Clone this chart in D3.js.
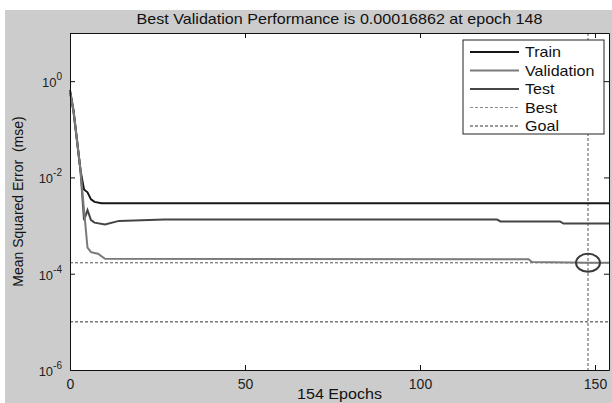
<!DOCTYPE html>
<html>
<head>
<meta charset="utf-8">
<script src="https://cdn.jsdelivr.net/npm/d3@7/dist/d3.min.js"></script>
<style>
  html, body { margin: 0; padding: 0; background: #fff; }
  svg { display: block; font-family: "Liberation Sans", Arial, sans-serif; }
</style>
</head>
<body>
<svg id="chart" width="612" height="403"></svg>
<script>
// performance curves (epoch, mse)
let trainEpochs = [0, 1, 2, 3, 4, 5, 6, 7, 9, 154];
let trainMse = [0.65, 0.25, 0.06, 0.014, 0.0056, 0.0049, 0.0035, 0.0031, 0.0029, 0.0029];

let valEpochs = [0, 1, 2, 3, 4, 5, 6, 7, 8, 10, 131, 132, 148, 154];
let valMse = [0.62, 0.24, 0.058, 0.014, 0.0021, 0.00035, 0.00028, 0.00027, 0.00026, 0.000205, 0.0002, 0.000175, 0.00016862, 0.000168];

let testEpochs = [0, 1, 2, 3, 4, 5, 6, 7, 10, 14, 27, 122, 123, 140, 141, 154];
let testMse = [0.6, 0.23, 0.057, 0.014, 0.0013, 0.0021, 0.0013, 0.00115, 0.00105, 0.00125, 0.00133, 0.00133, 0.00122, 0.00122, 0.0011, 0.0011];

let bestEpoch = 148;
let bestPerf = 0.00016862;
let goal = 1e-5;
let numEpochs = 154;

let xTicks = [0, 50, 100, 150];
let yTicks = [1e-6, 1e-4, 1e-2, 1];
let yTickExp = ["-6", "-4", "-2", "0"];

let legendNames = ["Train", "Validation", "Test", "Best", "Goal"];
let legendColors = ["#161616", "#7a7a7a", "#454545", "#8a8a8a", "#333"];
let legendDash = [null, null, null, "3,2", "3,2"];

let svg = d3.select("#chart");
let margin = {left: 70, right: 3, top: 33, bottom: 33};
let W = 612, H = 403;
let sx = 1.15; // the picture is a bit wider than tall, text looks stretched

// grey figure background
svg.append("rect").attr("x", 5).attr("y", 10).attr("width", W - 5).attr("height", H - 10).attr("fill", "#cccccc");

let x = d3.scaleLinear().domain([0, numEpochs]).range([margin.left, W - margin.right]);
let y = d3.scaleLog().domain([1e-6, 10]).range([H - margin.bottom, margin.top]);

// white plot area
svg.append("rect")
    .attr("x", x(0)).attr("y", y(10))
    .attr("width", x(numEpochs) - x(0)).attr("height", y(1e-6) - y(10))
    .attr("fill", "#fff");

function stretchText(sel, tx, ty) {
    return sel.attr("transform", "translate(" + tx + "," + ty + ") scale(" + sx + ",1)");
}

// goal + best reference lines
let plot = svg.append("g");
plot.append("line")
    .attr("x1", x(0)).attr("x2", x(numEpochs))
    .attr("y1", y(goal)).attr("y2", y(goal))
    .attr("stroke", "#333").attr("stroke-width", 1).attr("stroke-dasharray", "3,2");
plot.append("line")
    .attr("x1", x(0)).attr("x2", x(numEpochs))
    .attr("y1", y(bestPerf)).attr("y2", y(bestPerf))
    .attr("stroke", "#555").attr("stroke-width", 1).attr("stroke-dasharray", "3,2");
plot.append("line")
    .attr("x1", x(bestEpoch)).attr("x2", x(bestEpoch))
    .attr("y1", y(10)).attr("y2", y(1e-6))
    .attr("stroke", "#555").attr("stroke-width", 1).attr("stroke-dasharray", "3,2");

let line = d3.line().x(d => x(d[0])).y(d => y(d[1]));

function drawCurve(ep, vals, color) {
    plot.append("path")
        .datum(d3.zip(ep, vals))
        .attr("fill", "none")
        .attr("stroke", color)
        .attr("stroke-width", 2)
        .attr("d", line);
}
drawCurve(trainEpochs, trainMse, legendColors[0]);
drawCurve(testEpochs, testMse, legendColors[2]);
drawCurve(valEpochs, valMse, legendColors[1]);

// best marker
plot.append("ellipse")
    .attr("cx", x(bestEpoch)).attr("cy", y(bestPerf))
    .attr("rx", 12).attr("ry", 9)
    .attr("fill", "none").attr("stroke", "#3a3a3a").attr("stroke-width", 2);

// axes, ticks pointing inward on all four sides
let bottom = svg.append("g")
    .attr("transform", "translate(0," + y(1e-6) + ")")
    .call(d3.axisBottom(x).tickValues(xTicks).tickSizeInner(-5).tickSizeOuter(0).tickPadding(9));
bottom.selectAll("text").attr("font-size", 14).attr("fill", "#222");

svg.append("g")
    .attr("transform", "translate(0," + y(10) + ")")
    .call(d3.axisTop(x).tickValues(xTicks).tickSizeInner(-5).tickSizeOuter(0).tickFormat(""));

let left = svg.append("g")
    .attr("transform", "translate(" + x(0) + ",0)")
    .call(d3.axisLeft(y).tickValues(yTicks).tickSizeInner(-5).tickSizeOuter(0).tickFormat(""));

svg.append("g")
    .attr("transform", "translate(" + x(numEpochs) + ",0)")
    .call(d3.axisRight(y).tickValues(yTicks).tickSizeInner(-5).tickSizeOuter(0).tickFormat(""));

svg.selectAll(".domain, .tick line").attr("stroke", "#111");

// y tick labels as 10 with exponent
yTicks.forEach(function (v, i) {
    let t = svg.append("text")
        .attr("x", 0).attr("y", 0)
        .attr("text-anchor", "end")
        .attr("font-size", 13)
        .attr("fill", "#222");
    t.append("tspan").text("10");
    t.append("tspan").attr("font-size", 10).attr("dy", -7).text(yTickExp[i]);
    t.attr("transform", "translate(" + (x(0) - 8) + "," + (y(v) + 6) + ")");
});

// title and axis labels
stretchText(svg.append("text"), (x(0) + x(numEpochs)) / 2, 24)
    .attr("text-anchor", "middle").attr("font-size", 14).attr("fill", "#111")
    .text("Best Validation Performance is " + bestPerf + " at epoch " + bestEpoch);

stretchText(svg.append("text"), (x(0) + x(numEpochs)) / 2, 399)
    .attr("text-anchor", "middle").attr("font-size", 14).attr("fill", "#111")
    .text(numEpochs + " Epochs");

svg.append("text")
    .attr("transform", "translate(23," + (y(10) + y(1e-6)) / 2 + ") rotate(-90)")
    .attr("text-anchor", "middle").attr("font-size", 14).attr("fill", "#111")
    .attr("xml:space", "preserve")
    .text("Mean Squared Error  (mse)");

// legend
let lg = svg.append("g");
lg.append("rect")
    .attr("x", 463).attr("y", 40).attr("width", 141).attr("height", 94)
    .attr("fill", "#fff").attr("stroke", "#222").attr("stroke-width", 1);

legendNames.forEach(function (name, i) {
    let ly = 52 + i * 18.5;
    lg.append("line")
        .attr("x1", 470).attr("x2", 519).attr("y1", ly).attr("y2", ly)
        .attr("stroke", legendColors[i])
        .attr("stroke-width", legendDash[i] ? 1 : 2)
        .attr("stroke-dasharray", legendDash[i]);
    stretchText(lg.append("text"), 525, ly + 5)
        .attr("font-size", 14).attr("fill", "#111")
        .text(name);
});
</script>
</body>
</html>
